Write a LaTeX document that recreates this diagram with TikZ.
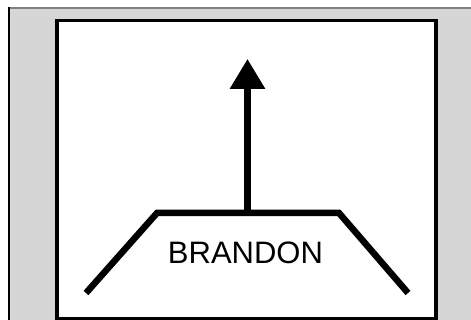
\documentclass[tikz,border=0pt]{standalone}
\usepackage{fontspec}
\setmainfont{Liberation Sans}
\usetikzlibrary{arrows.meta}
\definecolor{bggray}{HTML}{D6D6D6}
\definecolor{edgegray}{HTML}{7F7F7F}
\tikzset{
  thick line/.style={line width=6.5pt, line cap=butt, line join=miter},
  labeltext/.style={font=\fontsize{31}{37}\selectfont, inner sep=0pt}
}
\begin{document}
\begin{tikzpicture}[x=1pt,y=-1pt]
\useasboundingbox (0,0) rectangle (471,320);
\clip (0,0) rectangle (471,320);
\fill[white] (0,0) rectangle (471,320);
% outer panel
\fill[bggray] (8,7) rectangle (480,330);
\draw[edgegray, line width=2pt] (8,8) -- (480,8);
\draw[black, line width=2pt] (9,7) -- (9,330);
% inner frame
\draw[black, fill=white, line width=3.5pt] (57,20.5) rectangle (436,319);
% shape
\coordinate (bl) at (86,293);
\coordinate (tl) at (157,213);
\coordinate (tr) at (339,213);
\coordinate (br) at (408,293);
\coordinate (base) at (247.5,213);
\coordinate (tip) at (247.5,59);
\draw[thick line] (bl) -- (tl) -- (tr) -- (br);
\draw[thick line, -{Triangle[width=34pt,length=30pt]}] (base) -- (tip);
\node[labeltext] (label) at (245.5,252.5) {BRANDON};
\end{tikzpicture}
\end{document}
